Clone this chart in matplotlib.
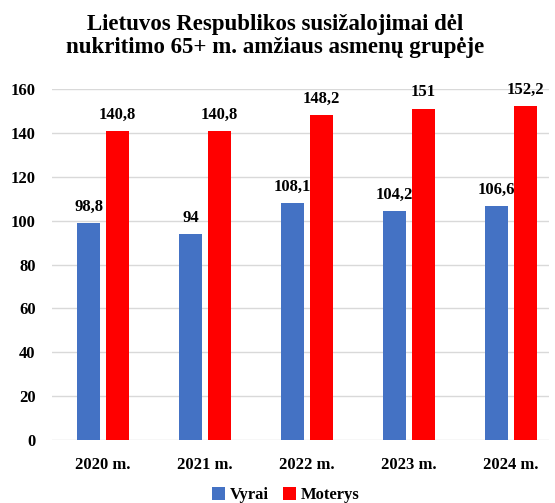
import numpy as np
from matplotlib import pyplot as plt

years = ['2020 m.', '2021 m.', '2022 m.', '2023 m.', '2024 m.']
vyrai = [98.8, 94, 108.1, 104.2, 106.6]
moterys = [140.8, 140.8, 148.2, 151, 152.2]
y_ticks = [0, 20, 40, 60, 80, 100, 120, 140, 160]

plt.rcParams['font.family'] = ['Liberation Serif', 'DejaVu Serif']
plt.rcParams['font.weight'] = 'bold'

fig = plt.figure(figsize=(5.55, 5.03), dpi=100)
ax = fig.add_axes([0.094, 0.125, 0.895, 0.698])

x = np.arange(len(years))
w = 0.225
off = 0.142
b1 = ax.bar(x - off, vyrai, w, color='#4472C4', label='Vyrai', zorder=3)
b2 = ax.bar(x + off, moterys, w, color='#FF0000', label='Moterys', zorder=3)


def fmt(v):
    s = ('%.1f' % v).rstrip('0').rstrip('.')
    return s.replace('.', ',')


for bars, vals in ((b1, vyrai), (b2, moterys)):
    for r, v in zip(bars, vals):
        ax.annotate(fmt(v), (r.get_x() + r.get_width() / 2, v),
                    xytext=(0, 6), textcoords='offset points',
                    ha='center', va='bottom', fontsize=12, fontweight='bold')

ax.set_ylim(0, 160)
ax.set_xlim(-0.5, 4.37)
ax.set_yticks(y_ticks)
ax.set_xticks(x)
ax.set_xticklabels(years)
ax.tick_params(axis='both', length=0, labelsize=12)
ax.tick_params(axis='x', pad=12)
ax.tick_params(axis='y', pad=12)
ax.grid(axis='y', color='#D9D9D9', linewidth=1, zorder=0)
for s in ax.spines.values():
    s.set_visible(False)

fig.suptitle('Lietuvos Respublikos susižalojimai dėl\nnukritimo 65+ m. amžiaus asmenų grupėje',
             x=0.495, y=0.972, fontsize=16.5, fontweight='bold', linespacing=1.1)

fig.legend(loc='lower center', bbox_to_anchor=(0.515, -0.03), ncol=2, frameon=False,
           fontsize=12, handlelength=0.8, handleheight=0.8, columnspacing=0.8,
           handletextpad=0.3)

fig.savefig('out.png', dpi=100)
